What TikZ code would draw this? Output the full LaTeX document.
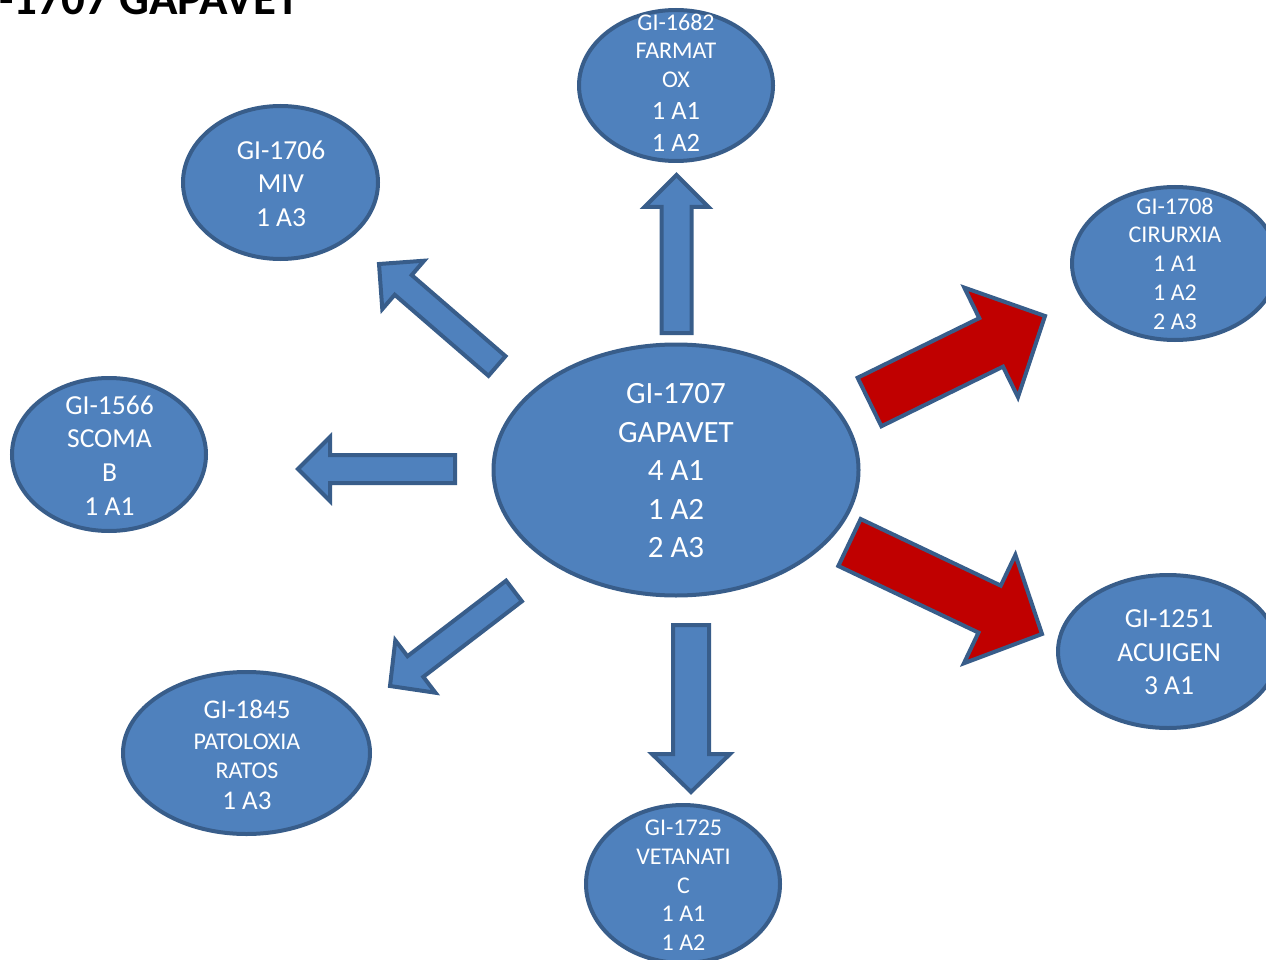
\documentclass[tikz,border=0pt]{standalone}
\usepackage{fontspec}
\setmainfont{Carlito}
\usetikzlibrary{calc,shapes.geometric}

\definecolor{nodefill}{HTML}{4F81BD}
\definecolor{nodeline}{HTML}{385D8A}
\definecolor{hotfill}{HTML}{C00000}

\newcommand{\fsz}[2]{\fontsize{#1}{#2}\selectfont}

% Block arrow: #1 style, #2 tail coordinate, #3 tip coordinate,
% #4 shaft half-width, #5 head half-width, #6 head length (all in pt)
\newcommand{\blockarrow}[6]{%
  \coordinate (ba-base) at ($(#3)!#6pt!(#2)$);
  \draw[#1] ($(#2)!#4pt!90:(#3)$) -- ($(ba-base)!#4pt!90:(#3)$)
    -- ($(ba-base)!#5pt!90:(#3)$) -- (#3)
    -- ($(ba-base)!#5pt!-90:(#3)$) -- ($(ba-base)!#4pt!-90:(#3)$)
    -- ($(#2)!#4pt!-90:(#3)$) -- cycle;}

\begin{document}
\begin{tikzpicture}[x=1pt,y=-1pt,
  bubble/.style={ellipse, draw=nodeline, fill=nodefill, line width=4pt, inner sep=0pt},
  bubbletext/.style={text=white, align=center, inner sep=0pt},
  bluearrow/.style={draw=nodeline, fill=nodefill, line width=4pt, line join=miter},
  redarrow/.style={draw=nodeline, fill=hotfill, line width=4pt, line join=miter}]
\useasboundingbox (0,0) rectangle (1266,960);
\clip (0,0) rectangle (1266,960);

% title, running off the top-left corner of the page
\node[anchor=base east, inner sep=0pt, font=\bfseries\fsz{47}{56}] (title) at (300,15) {GI-1707 GAPAVET};

% ellipses
\node[bubble, minimum width=365pt, minimum height=251pt] (gapavet) at (676,470) {};
\node[bubble, minimum width=194pt, minimum height=151pt] (farmatox) at (676,85.5) {};
\node[bubble, minimum width=195pt, minimum height=153pt] (miv) at (280.5,182.5) {};
\node[bubble, minimum width=206pt, minimum height=153pt] (cirurxia) at (1175,263.5) {};
\node[bubble, minimum width=194pt, minimum height=153pt] (scomab) at (109,454.5) {};
\node[bubble, minimum width=220pt, minimum height=153pt] (acuigen) at (1168,651.5) {};
\node[bubble, minimum width=247pt, minimum height=162pt] (patoloxia) at (246.5,753) {};
\node[bubble, minimum width=194pt, minimum height=158pt] (vetanatic) at (683,884) {};

% texts
\node[bubbletext, font=\fsz{31}{38.5}] (gapavet-t) at (676,471) {GI-1707\\GAPAVET\\4 A1\\1 A2\\2 A3};
\node[bubbletext, font=\fsz{24}{28.5}] (farmatox-t) at (676,82.5) {GI-1682\\FARMAT\\OX\\[3.5pt]{\fsz{26.5}{32}1 A1}\\[3.5pt]{\fsz{26.5}{32}1 A2}};
\node[bubbletext, font=\fsz{27.5}{33.5}] (miv-t) at (281,183.5) {GI-1706\\MIV\\1 A3};
\node[bubbletext, font=\fsz{24}{28.7}] (cirurxia-t) at (1175,263.5) {GI-1708\\CIRURXIA\\1 A1\\1 A2\\2 A3};
\node[bubbletext, font=\fsz{27.5}{33.7}] (scomab-t) at (109.5,455.5) {GI-1566\\SCOMA\\B\\1 A1};
\node[bubbletext, font=\fsz{27.5}{33.5}] (acuigen-t) at (1169,652.5) {GI-1251\\ACUIGEN\\3 A1};
\node[bubbletext, font=\fsz{24}{29}] (patoloxia-t) at (247,754.5) {{\fsz{27}{31}GI-1845}\\[2pt]PATOLOXIA\\RATOS\\[2pt]{\fsz{27}{31}1 A3}};
\node[bubbletext, font=\fsz{24}{28.7}] (vetanatic-t) at (683.5,885.5) {GI-1725\\VETANATI\\C\\1 A1\\1 A2};

% arrow end points
\coordinate (up-tail) at (676.5,333);
\coordinate (up-tip) at (676.5,175);
\coordinate (down-tail) at (691,625);
\coordinate (down-tip) at (691,792);
\coordinate (left-tail) at (455,469);
\coordinate (left-tip) at (298,469);
\coordinate (ul-tail) at (497,366);
\coordinate (ul-tip) at (379,264);
\coordinate (ll-tail) at (514,591);
\coordinate (ll-tip) at (390,686);
\coordinate (ur-tail) at (869.5,402);
\coordinate (ur-tip) at (1045,316);
\coordinate (lr-tail) at (849.5,542.5);
\coordinate (lr-tip) at (1042,634);

% arrows
\blockarrow{bluearrow}{up-tail}{up-tip}{15}{32}{32}
\blockarrow{bluearrow}{down-tail}{down-tip}{18}{39}{38}
\blockarrow{bluearrow}{left-tail}{left-tip}{14}{32}{32}
\blockarrow{bluearrow}{ul-tail}{ul-tip}{13}{32}{32}
\blockarrow{bluearrow}{ll-tail}{ll-tip}{13}{33}{32}
\blockarrow{redarrow}{ur-tail}{ur-tip}{27}{61}{60}
\blockarrow{redarrow}{lr-tail}{lr-tip}{26}{60}{58}
\end{tikzpicture}
\end{document}
